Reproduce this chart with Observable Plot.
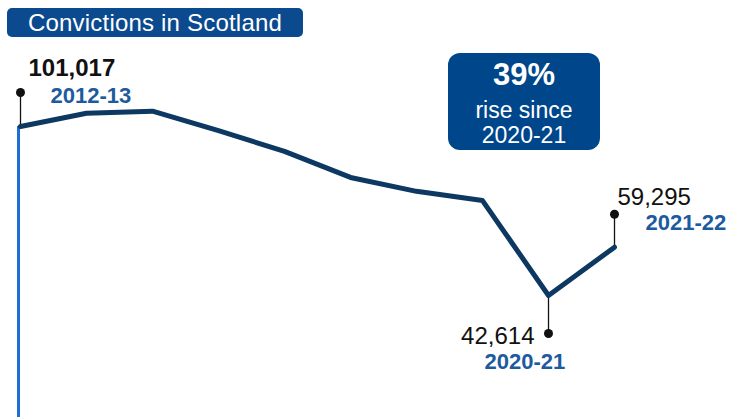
<!DOCTYPE html>
<html>
<head>
<meta charset="utf-8">
<script src="https://cdn.jsdelivr.net/npm/d3@7"></script>
<script src="https://cdn.jsdelivr.net/npm/@observablehq/plot@0.6"></script>
<style>
  body { margin: 0; background: #fff; font-family: "Liberation Sans", Arial, sans-serif; }
  #wrap { position: relative; width: 729px; height: 417px; overflow: hidden; }
  #wrap svg { position: absolute; left: 0; top: 0; }
  .title { position: absolute; left: 7px; top: 8px; width: 296px; height: 29px; background: #0b4a8e;
           border-radius: 5px; color: #fff; font-size: 24px; line-height: 30px; text-align: center; letter-spacing: 0.2px; }
  .callout { position: absolute; left: 448px; top: 53px; width: 152px; height: 97px; background: #00468b;
             border-radius: 12px; color: #fff; }
  .callout div { position: absolute; left: 0; width: 100%; text-align: center; white-space: nowrap; }
</style>
</head>
<body>
<div id="wrap">
  <div class="title" id="title"></div>
  <div class="callout">
    <div id="c1" style="top:7px;height:30px;line-height:30px;font-size:31px;font-weight:bold;"></div>
    <div id="c2" style="top:44px;height:26px;line-height:26px;font-size:23px;"></div>
    <div id="c3" style="top:69px;height:26px;line-height:26px;font-size:23px;"></div>
  </div>
</div>
<script>
const titleText = "Convictions in Scotland";
const years = ["2012-13","2013-14","2014-15","2015-16","2016-17","2017-18","2018-19","2019-20","2020-21","2021-22"];
const convictions = [101017, 105600, 106300, 99600, 92400, 83400, 78600, 75400, 42614, 59295];
const calloutLines = ["39%", "rise since", "2020-21"];
const labelledYears = ["2012-13", "2020-21", "2021-22"];

document.getElementById("title").textContent = titleText;
document.getElementById("c1").textContent = calloutLines[0];
document.getElementById("c2").textContent = calloutLines[1];
document.getElementById("c3").textContent = calloutLines[2];

const data = years.map((year, i) => ({year, value: convictions[i]}));

const yDomain = [0, 100000];
const yRange = [418.3, 128.9];
const unitsPerPx = (yDomain[1] - yDomain[0]) / (yRange[0] - yRange[1]);

// styling per labelled point (pixel offsets)
const labelStyle = {
  "2012-13": {stem: -34, vdx: 8, vdy: -58, vAnchor: "start", vWeight: "bold", ydx: 30, ydy: -31, yAnchor: "start"},
  "2020-21": {stem: 38, vdx: -14, vdy: 41, vAnchor: "end", vWeight: "normal", ydx: -64, ydy: 66, yAnchor: "start"},
  "2021-22": {stem: -33, vdx: 3, vdy: -50, vAnchor: "start", vWeight: "normal", ydx: 31, ydy: -24, yAnchor: "start"}
};

const labelled = data.filter(d => labelledYears.includes(d.year)).map(d => {
  const s = labelStyle[d.year];
  return {...d, end: d.value - s.stem * unitsPerPx, s};
});

const fmt = d3.format(",");

const marks = [
  Plot.ruleY([0], {x1: years[0], x2: years[years.length - 1], stroke: "#a9c9ee", strokeWidth: 2, dy: -3, dx: -2}),
  Plot.ruleX([data[0]], {x: "year", y1: 0, y2: "value", stroke: "#1f6fd1", strokeWidth: 3, dx: -2}),
  Plot.ruleX(labelled, {x: "year", y1: "value", y2: "end", stroke: "#111", strokeWidth: 1.3}),
  Plot.line(data, {x: "year", y: "value", stroke: "#0c3861", strokeWidth: 5, strokeLinejoin: "round"}),
  Plot.dot(labelled, {x: "year", y: "end", r: 4.5, fill: "#111"})
];

for (const d of labelled) {
  const s = d.s;
  marks.push(Plot.text([d], {x: "year", y: "value", text: v => fmt(v.value), dx: s.vdx, dy: s.vdy,
    textAnchor: s.vAnchor, fontSize: 24, fontWeight: s.vWeight, fill: "#111"}));
  marks.push(Plot.text([d], {x: "year", y: "value", text: "year", dx: s.ydx, dy: s.ydy,
    textAnchor: s.yAnchor, fontSize: 22, fontWeight: "bold", fill: "#1d5a9e"}));
}

const chart = Plot.plot({
  width: 729,
  height: 417,
  margin: 0,
  style: {fontFamily: "'Liberation Sans', Arial, sans-serif", background: "transparent", overflow: "visible"},
  x: {type: "point", domain: years, range: [17, 616], padding: 0, axis: null},
  y: {domain: yDomain, range: yRange, axis: null},
  marks
});
const wrap = document.getElementById("wrap");
wrap.insertBefore(chart, wrap.firstChild);
</script>
</body>
</html>
